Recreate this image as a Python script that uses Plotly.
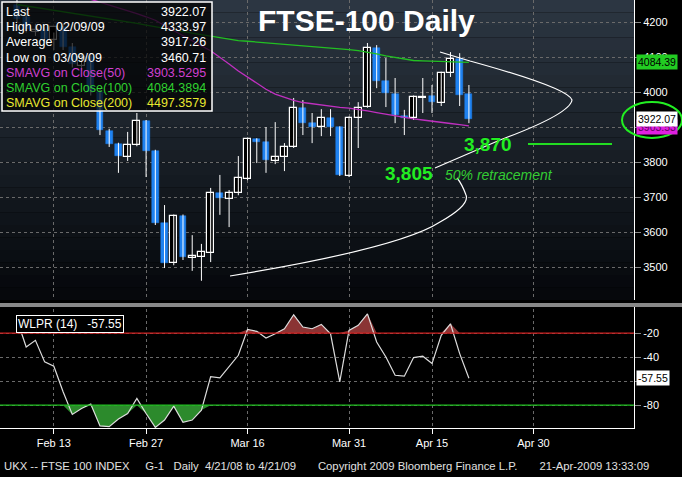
import plotly.graph_objects as go

# ---------------- data ----------------
opens  = [4250,4215,4172,4176,4150,4186,4129,4075,4100,4000,3889,3851,3814,3849,3917,3831,3626,3511,3646,3525,3529,3540,3711,3694,3711,3751,3866,3857,3803,3814,3843,3954,3911,3900,3926,3900,3760,3926,3957,4126,4031,3994,3931,3926,3983,3989,3969,4054,4094,3994]
highs  = [4334,4230,4195,4185,4170,4195,4140,4110,4110,4010,3895,3855,3886,3940,3920,3835,3677,3650,3650,3591,3566,3726,3763,3720,3817,3870,3868,3900,3914,3854,3983,3977,3940,3951,3951,3902,3930,3971,4140,4134,4097,4040,3949,3990,4040,4020,4058,4114,4111,4020]
lows   = [4200,4170,4160,4140,4120,4120,4070,4060,3990,3877,3843,3769,3803,3845,3757,3620,3497,3505,3520,3489,3460.71,3514,3649,3614,3705,3748,3797,3769,3794,3774,3840,3877,3854,3874,3874,3760,3757,3840,3955,4011,3957,3911,3877,3920,3940,3940,3960,4043,3960,3911]
closes = [4210,4180,4176,4152,4186,4129,4080,4100,4000,3891,3851,3817,3849,3917,3831,3626,3511,3646,3529,3531,3543,3711,3697,3711,3754,3866,3857,3806,3814,3843,3954,3911,3900,3926,3900,3763,3926,3954,4126,4031,3997,3934,3927,3986,3986,3971,4054,4094,3991,3922.07]
sma50  = [4330,4322,4314,4306,4298,4290,4282,4274,4266,4258,4250,4242,4233,4224,4215,4205,4190,4175,4160,4145,4132,4118,4100,4080,4060,4043,4025,4008,3994,3984,3976,3970,3966,3962,3959,3956,3954,3951,3946,3941,3936,3931,3926,3923,3920,3916,3913,3910,3907,3903.53]
sma100 = [4250,4246,4242,4238,4234,4230,4226,4222,4218,4214,4210,4206,4201,4196,4191,4186,4181,4176,4172,4168,4164,4160,4155,4150,4147,4145,4143,4141,4139,4137,4135,4133,4131,4128,4126,4124,4121,4118,4114,4109,4103,4098,4094,4090,4089,4088,4087,4086,4085,4084.39]
wlpr   = [-8.7,-31.6,-26.1,-44.0,-47.6,-68.9,-87.7,-82.7,-79.1,-97.3,-97.9,-91.5,-86.9,-74.4,-86.9,-98.5,-92.4,-80.8,-94.3,-92.4,-84.1,-56.2,-57.3,-47.9,-38.5,-17.0,-18.6,-24.1,-20.6,-16.4,-4.8,-15.0,-16.4,-12.8,-20.6,-60.6,-17.8,-13.6,-4.0,-27.5,-39.9,-55.1,-55.9,-40.4,-39.3,-45.4,-21.9,-12.3,-37.1,-57.55]
tick_idx  = [4, 14, 25, 36, 45, 56]
tick_text = ["Feb 13", "Feb 27", "Mar 16", "Mar 31", "Apr 15", "Apr 30"]
price_ticks = [3500, 3600, 3700, 3800, 3900, 4000, 4100, 4200]

idx = list(range(len(closes)))
W, H = 682, 477
PW, PH = 634, 428  # plot area in pixels (margins l=0,t=0)

def px(x, y):
    return x / PW, 1 - y / PH

fig = go.Figure()

# background gradient in price panel
top = (44, 54, 66); bot = (6, 8, 12)
N = 24
y0p, y1p = 1 - 300 / PH, 1.0
for k in range(N):
    t = k / (N - 1)
    c = tuple(int(top[j] * (1 - t) + bot[j] * t) for j in range(3))
    ya = y1p - (y1p - y0p) * k / N
    yb = y1p - (y1p - y0p) * (k + 1) / N
    fig.add_shape(type="rect", xref="paper", yref="paper", x0=0, x1=1, y0=yb, y1=ya,
                  fillcolor="rgb(%d,%d,%d)" % c, line_width=0, layer="below")

# wicks
wx, wy = [], []
for i in idx:
    wx += [i, i, None]; wy += [lows[i], highs[i], None]
fig.add_trace(go.Scatter(x=wx, y=wy, mode="lines", line=dict(color="white", width=1),
                         hoverinfo="skip", showlegend=False))
# bodies
up = [i for i in idx if closes[i] >= opens[i]]
dn = [i for i in idx if closes[i] < opens[i]]
fig.add_trace(go.Bar(x=up, base=[opens[i] for i in up],
                     y=[max(closes[i] - opens[i], 2) for i in up], width=0.74,
                     marker=dict(color="black", line=dict(color="white", width=1.2)), showlegend=False))
fig.add_trace(go.Bar(x=dn, base=[closes[i] for i in dn],
                     y=[opens[i] - closes[i] for i in dn], width=0.74,
                     marker=dict(color="#1f82f0", line=dict(color="#1f82f0", width=0.5)), showlegend=False))
fig.add_trace(go.Scatter(x=idx, y=sma100, mode="lines", line=dict(color="#22c022", width=1.3), showlegend=False))
fig.add_trace(go.Scatter(x=idx, y=sma50, mode="lines", line=dict(color="#c030c0", width=1.3), showlegend=False))

# WLPR panel
fig.add_trace(go.Scatter(x=idx, y=[-20] * len(idx), xaxis="x2", yaxis="y2", mode="lines",
                         line=dict(color="rgba(0,0,0,0)"), showlegend=False))
fig.add_trace(go.Scatter(x=idx, y=[max(v, -20) for v in wlpr], xaxis="x2", yaxis="y2", mode="lines",
                         fill="tonexty", fillcolor="#8a3434", line=dict(color="rgba(0,0,0,0)"), showlegend=False))
fig.add_trace(go.Scatter(x=idx, y=[-80] * len(idx), xaxis="x2", yaxis="y2", mode="lines",
                         line=dict(color="rgba(0,0,0,0)"), showlegend=False))
fig.add_trace(go.Scatter(x=idx, y=[min(v, -80) for v in wlpr], xaxis="x2", yaxis="y2", mode="lines",
                         fill="tonexty", fillcolor="#2c8a2c", line=dict(color="rgba(0,0,0,0)"), showlegend=False))
fig.add_trace(go.Scatter(x=idx, y=wlpr, xaxis="x2", yaxis="y2", mode="lines",
                         line=dict(color="#dddddd", width=1.2), showlegend=False))

xr = [-1.84, 66.9]
grid = dict(showgrid=True, gridcolor="#6a6a6a", griddash="dot", gridwidth=1)
fig.update_layout(
    width=W, height=H, margin=dict(l=0, r=W - PW, t=0, b=H - PH, autoexpand=False),
    paper_bgcolor="black", plot_bgcolor="black", barmode="overlay", bargap=0,
    font=dict(family="Liberation Sans, Arial", color="white"),
    xaxis=dict(domain=[0, 1], anchor="y", range=xr, tickvals=tick_idx, showticklabels=False,
               ticks="", zeroline=False, **grid),
    yaxis=dict(domain=[y0p, 1], side="right", range=[3405.7, 4262.9], tickvals=price_ticks,
               ticks="outside", ticklen=6, tickcolor="#888", tickfont=dict(size=11, color="white"),
               showline=True, linecolor="white", zeroline=False, **grid),
    xaxis2=dict(domain=[0, 1], anchor="y2", range=xr, tickvals=tick_idx, ticktext=tick_text,
                ticks="outside", ticklen=5, tickcolor="white", tickfont=dict(size=11, color="white"),
                showline=True, linecolor="white", zeroline=False, **grid),
    yaxis2=dict(domain=[0, 125 / PH], side="right", range=[-99, 5], tickvals=[-20, -40, -60, -80],
                ticktext=["-20", "-40", "", "-80"], ticks="outside", ticklen=6, tickcolor="#888",
                tickfont=dict(size=11, color="white"), showline=True, linecolor="white", zeroline=False, **grid),
)
fig.add_hline(y=-20, line=dict(color="#d02020", width=1.3), xref="x2", yref="y2")
fig.add_hline(y=-80, line=dict(color="#20c020", width=1.3), xref="x2", yref="y2")
# separator
a, b = px(0, 305); c, d = px(682, 305)
fig.add_shape(type="line", xref="paper", yref="paper", x0=a, x1=c, y0=b, y1=b,
              line=dict(color="#888", width=4))

# hand-drawn curves
def path(cmds):
    out = []
    for cmd in cmds:
        letter, pts = cmd[0], cmd[1:]
        s = letter
        for (x, y) in pts:
            X, Y = px(x, y); s += " %.5f,%.5f" % (X, Y)
        out.append(s)
    return " ".join(out)
fig.add_shape(type="path", xref="paper", yref="paper", line=dict(color="white", width=1.2),
              path=path([("M", (440, 52)), ("L", (470, 61)), ("Q", (568, 88), (572, 100)),
                         ("Q", (570, 114), (500, 140)), ("L", (435, 168))]))
fig.add_shape(type="path", xref="paper", yref="paper", line=dict(color="white", width=1.2),
              path=path([("M", (230, 276)), ("Q", (400, 248), (440, 222)),
                         ("Q", (470, 205), (466, 195)), ("Q", (462, 184), (457, 178))]))
# 3870 line
a, b = px(528, 144); c, d = px(612, 144)
fig.add_shape(type="line", xref="paper", yref="paper", x0=a, x1=c, y0=b, y1=b,
              line=dict(color="#22dd22", width=2))

def ann(x, y, text, size=12, color="white", xanchor="left", **kw):
    X, Y = px(x, y)
    fig.add_annotation(xref="paper", yref="paper", x=X, y=Y, text=text, showarrow=False,
                       xanchor=xanchor, yanchor="middle", font=dict(size=size, color=color,
                       family=kw.pop("family", "Liberation Sans, Arial")), **kw)

ann(367, 20, "<b>FTSE-100 Daily</b>", size=30, xanchor="center")
ann(462, 144, "<b>3,870</b>", size=19, color="#22ee22")
ann(383, 173, "<b>3,805</b>", size=19, color="#22ee22")
ann(443, 175, "<i>50% retracement</i>", size=14, color="#33cc33")

# legend box
a, b = px(2, 2); c, d = px(212, 111)
fig.add_shape(type="rect", xref="paper", yref="paper", x0=a, x1=c, y0=d, y1=b,
              fillcolor="rgba(0,0,0,0.72)", line=dict(color="white", width=1.5))
rows = [("Last", "3922.07", "white"), ("High on  02/09/09", "4333.97", "white"),
        ("Average", "3917.26", "white"), ("Low on  03/09/09", "3460.71", "white"),
        ("SMAVG on Close(50)", "3903.5295", "#d040d0"), ("SMAVG on Close(100)", "4084.3894", "#30d030"),
        ("SMAVG on Close(200)", "4497.3579", "#e8e830")]
for k, (lab, val, col) in enumerate(rows):
    yy = 12 + k * 15.2
    ann(4, yy, lab, size=12.5, color=col)
    ann(208, yy, val, size=12.5, color=col, xanchor="right")

# WLPR label box
ann(16, 324, "WLPR (14)   -57.55", size=12, bgcolor="black", bordercolor="white", borderwidth=1, borderpad=1)

# right tags
ann(636, 62, "4084.39", size=10.5, color="black", bgcolor="#22cc22", borderpad=1)
ann(636, 127, "3903.53", size=10.5, color="#600060", bgcolor="#e020e0", borderpad=1)
ann(636, 119, "3922.07", size=10.5, color="black", bgcolor="white", borderpad=1)
ann(636, 378, "-57.55", size=10.5, color="black", bgcolor="white", borderpad=1)
a, b = px(622, 102); c, d = px(682, 138)
fig.add_shape(type="circle", xref="paper", yref="paper", x0=a, x1=c, y0=d, y1=b,
              line=dict(color="#22ee22", width=2))

# footer
ann(2, 466, "UKX -- FTSE 100 INDEX     G-1   Daily  4/21/08 to 4/21/09       Copyright 2009 Bloomberg Finance L.P.       21-Apr-2009 13:33:09",
    size=11.3, color="#e0e0e0")

fig.write_html("out.html", config={"displayModeBar": False},
               post_script="document.body.style.margin='0';document.body.style.background='black';")
